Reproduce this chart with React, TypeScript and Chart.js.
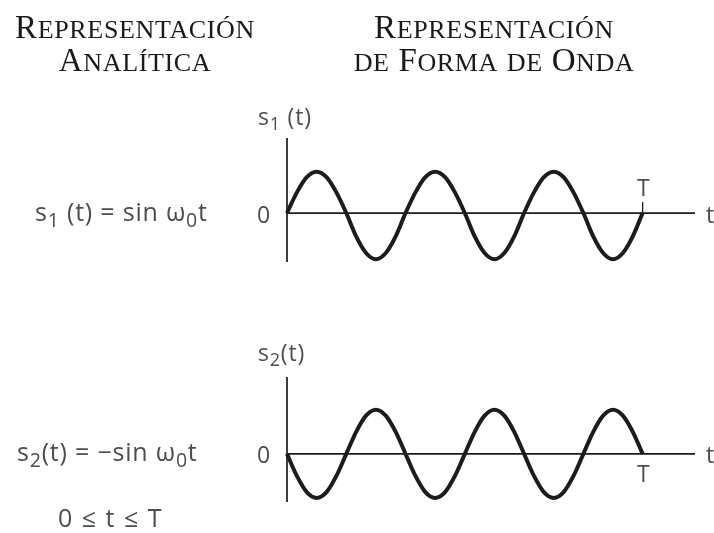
import React, { useEffect, useRef } from "react";
import { Chart, registerables } from "chart.js";

Chart.register(...registerables);

// Time axis in twelfths of the fundamental period: 0 … 36 = T (three cycles).
const timePoints = [
  0, 1, 2, 3, 4, 5, 6, 7, 8, 9, 10, 11,
  12, 13, 14, 15, 16, 17, 18, 19, 20, 21, 22, 23,
  24, 25, 26, 27, 28, 29, 30, 31, 32, 33, 34, 35,
  36,
];

// s1(t) = sin ω0 t
const s1Values = [
  0, 0.46, 0.8, 0.92, 0.8, 0.46, 0, -0.52, -0.89, -1.03, -0.89, -0.52,
  0, 0.46, 0.8, 0.92, 0.8, 0.46, 0, -0.52, -0.89, -1.03, -0.89, -0.52,
  0, 0.46, 0.8, 0.92, 0.8, 0.46, 0, -0.52, -0.89, -1.03, -0.89, -0.52,
  0,
];

// s2(t) = −sin ω0 t
const s2Values = [
  0, -0.49, -0.85, -0.98, -0.85, -0.49, 0, 0.49, 0.85, 0.98, 0.85, 0.49,
  0, -0.49, -0.85, -0.98, -0.85, -0.49, 0, 0.49, 0.85, 0.98, 0.85, 0.49,
  0, -0.49, -0.85, -0.98, -0.85, -0.49, 0, 0.49, 0.85, 0.98, 0.85, 0.49,
  0,
];

const periodEnd = 36; // T
const timeAxisMax = 41.3;
const topRange = { min: -1.09, max: 1.67 };
const bottomRange = { min: -1.07, max: 1.71 };

const INK = "#1c1c1c";
const TEXT = "#4d4d4d";

type Pad = { left: number; right: number; top: number; bottom: number };

function axesPlugin(markAtEnd: "up" | "none") {
  return {
    id: "waveAxes",
    beforeDatasetsDraw(chart: any) {
      const { ctx, chartArea, scales } = chart;
      const xs = scales.x;
      const ys = scales.y;
      const x0 = xs.getPixelForValue(0);
      const y0 = ys.getPixelForValue(0);
      ctx.save();
      ctx.strokeStyle = INK;
      ctx.lineWidth = 1.7;
      ctx.beginPath();
      ctx.moveTo(x0, chartArea.top);
      ctx.lineTo(x0, chartArea.bottom);
      ctx.moveTo(chartArea.left, y0);
      ctx.lineTo(chartArea.right, y0);
      ctx.stroke();
      if (markAtEnd === "up") {
        const xt = xs.getPixelForValue(periodEnd);
        ctx.lineWidth = 1.3;
        ctx.beginPath();
        ctx.moveTo(xt, y0);
        ctx.lineTo(xt, y0 - 11);
        ctx.stroke();
      }
      ctx.restore();
    },
  };
}

function buildChart(
  canvas: HTMLCanvasElement,
  values: number[],
  pad: Pad,
  range: { min: number; max: number },
  mark: "up" | "none"
) {
  return new Chart(canvas, {
    type: "line",
    data: {
      datasets: [
        {
          data: timePoints.map((t, i) => ({ x: t, y: values[i] })),
          borderColor: INK,
          borderWidth: 4,
          pointRadius: 0,
          cubicInterpolationMode: "monotone",
          borderJoinStyle: "round",
          clip: false as any,
        },
      ],
    },
    options: {
      responsive: false,
      animation: false,
      devicePixelRatio: 1,
      layout: { padding: pad },
      plugins: { legend: { display: false }, tooltip: { enabled: false } },
      events: [],
      scales: {
        x: { type: "linear", display: false, min: 0, max: timeAxisMax },
        y: { type: "linear", display: false, min: range.min, max: range.max },
      },
    },
    plugins: [axesPlugin(mark)],
  });
}

const abs = (s: React.CSSProperties): React.CSSProperties => ({
  position: "absolute",
  whiteSpace: "nowrap",
  ...s,
});

const labelFont: React.CSSProperties = {
  fontFamily: "'Open Sans', 'DejaVu Sans', sans-serif",
  fontSize: 23,
  letterSpacing: "0.8px",
  color: TEXT,
  lineHeight: "26px",
};

const formulaFont: React.CSSProperties = {
  ...labelFont,
  fontSize: 25,
  lineHeight: "28px",
};

const Sub = ({ children }: { children: React.ReactNode }) => (
  <span style={{ fontSize: "0.78em", position: "relative", top: "0.3em" }}>{children}</span>
);

// Small capitals: capitals at full size, lower-case letters as reduced capitals.
const SmallCaps = ({ text }: { text: string }) => (
  <>
    {Array.from(text).map((ch, i) =>
      ch !== ch.toUpperCase() ? (
        <span key={i} style={{ fontSize: "0.79em" }}>
          {ch.toUpperCase()}
        </span>
      ) : (
        <span key={i}>{ch}</span>
      )
    )}
  </>
);

const headFont: React.CSSProperties = {
  fontFamily: "'Liberation Serif', 'DejaVu Serif', serif",
  fontSize: 33,
  lineHeight: "31px",
  color: "#1a1a1a",
  textAlign: "center",
  letterSpacing: "0.6px",
};

export default function App() {
  const topRef = useRef<HTMLCanvasElement>(null);
  const bottomRef = useRef<HTMLCanvasElement>(null);

  useEffect(() => {
    const c1 = buildChart(
      topRef.current!,
      s1Values,
      { left: 287, right: 19, top: 138, bottom: 271 },
      topRange,
      "up"
    );
    const c2 = buildChart(
      bottomRef.current!,
      s2Values,
      { left: 287, right: 19, top: 377, bottom: 31 },
      bottomRange,
      "none"
    );
    return () => {
      c1.destroy();
      c2.destroy();
    };
  }, []);

  return (
    <div
      style={{
        position: "fixed",
        left: 0,
        top: 0,
        width: 714,
        height: 533,
        background: "#fff",
        overflow: "hidden",
      }}
    >
      <canvas ref={topRef} width={714} height={533} style={{ position: "absolute", left: 0, top: 0 }} />
      <canvas ref={bottomRef} width={714} height={533} style={{ position: "absolute", left: 0, top: 0 }} />

      <div style={abs({ ...headFont, left: 0, width: 270, top: 12 })}>
        <SmallCaps text="Representación" />
        <br />
        <SmallCaps text="Analítica" />
      </div>
      <div style={abs({ ...headFont, left: 344, width: 300, top: 12 })}>
        <SmallCaps text="Representación" />
        <br />
        <SmallCaps text="de Forma de Onda" />
      </div>

      <div style={abs({ ...formulaFont, left: 35, top: 197 })}>
        s<Sub>1</Sub> (t) = sin ω<Sub>0</Sub>t
      </div>
      <div style={abs({ ...formulaFont, left: 17, top: 437 })}>
        s<Sub>2</Sub>(t) = −sin ω<Sub>0</Sub>t
      </div>
      <div style={abs({ ...formulaFont, left: 58, top: 503, letterSpacing: "1.5px" })}>0 ≤ t ≤ T</div>

      <div style={abs({ ...labelFont, left: 258, top: 103 })}>
        s<Sub>1</Sub> (t)
      </div>
      <div style={abs({ ...labelFont, left: 258, top: 339 })}>
        s<Sub>2</Sub>(t)
      </div>
      <div style={abs({ ...labelFont, left: 257, top: 201 })}>0</div>
      <div style={abs({ ...labelFont, left: 257, top: 441 })}>0</div>
      <div style={abs({ ...labelFont, left: 637, top: 174 })}>T</div>
      <div style={abs({ ...labelFont, left: 637, top: 460 })}>T</div>
      <div style={abs({ ...labelFont, left: 706, top: 201 })}>t</div>
      <div style={abs({ ...labelFont, left: 706, top: 441 })}>t</div>
    </div>
  );
}
